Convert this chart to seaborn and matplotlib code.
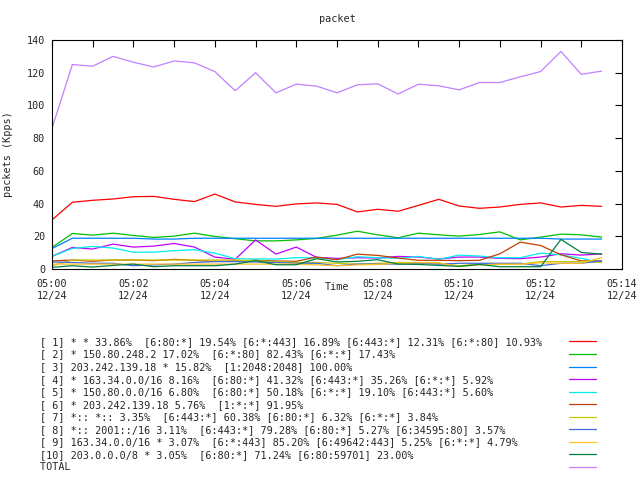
import pandas as pd
import seaborn as sns
import matplotlib
matplotlib.use("Agg")
import matplotlib.pyplot as plt
import matplotlib.dates as mdates

# Sample times: every 30 seconds from 05:00 to 05:13:30
times = pd.date_range("2012-12-24 05:00:00", periods=28, freq="30s")

# Series values in Kpps
s1 = [30, 40.8, 42, 42.8, 44.2, 44.4, 42.6, 41.2, 45.8, 41, 39.5, 38.3, 39.8, 40.4,
      39.5, 34.9, 36.5, 35.3, 38.9, 42.6, 38.5, 37.1, 37.9, 39.5, 40.4, 37.9, 38.9, 38.3]
s2 = [13.2, 21.7, 20.7, 21.9, 20.5, 19.3, 20.1, 21.9, 19.9, 18.5, 17.2, 17.2, 17.8, 18.7,
      20.7, 23.1, 20.9, 19.1, 21.9, 20.9, 20.1, 21.1, 22.7, 17.8, 19.5, 21.3, 20.9, 19.5]
s3 = [12.5, 18.8, 18.8, 18.8, 18.8, 18.3, 18.3, 18.8, 18.8, 18.8, 18.8, 18.8, 18.8, 18.8,
      18.8, 18.8, 18.8, 18.8, 18.8, 18.8, 18.8, 18.8, 18.8, 18.8, 18.8, 18.3, 18.3, 18.3]
s4 = [7.7, 13.2, 12.2, 15.2, 13.4, 14, 15.6, 13.4, 7.3, 5.9, 17.8, 9.1, 13.4, 7.1,
      6.5, 6.9, 6.7, 7.7, 7.3, 6.1, 7.3, 7.3, 6.5, 6.3, 7.3, 9.3, 8.5, 9.3]
s5 = [7.7, 12.6, 13.8, 12.8, 10.3, 10.3, 11.2, 11.8, 9.7, 6.3, 6.1, 6.1, 6.9, 6.9,
      5.7, 7.5, 6.9, 6.5, 7.7, 5.9, 8.5, 7.9, 6.9, 6.9, 9.7, 8.7, 6.5, 3.9]
s6 = [4.9, 5.5, 4.7, 5.5, 5.5, 5.1, 5.9, 5.3, 4.7, 4.9, 5.3, 4.9, 4.7, 7.3,
      5.7, 9.1, 8.3, 6.7, 5.3, 5.3, 5.1, 5.3, 9.3, 16.4, 14.4, 8.7, 4.9, 4.9]
s7 = [2, 5.5, 5.5, 5.5, 5.5, 5.5, 5.5, 5.5, 5.5, 5.5, 5, 4.5, 4, 4,
      3.5, 3, 3.5, 4, 4, 3.5, 2, 3, 3, 3, 4.5, 4.5, 4.5, 4]
s8 = [4.3, 4, 3.5, 3.5, 2, 2.5, 3, 4, 4.5, 4.5, 4.3, 4, 3.5, 3.5,
      2, 3, 3, 3, 3.5, 3, 3.5, 3.5, 3.5, 3.5, 2, 3.5, 3.5, 5]
s9 = [3, 3, 3, 3, 3, 3, 3, 3, 3, 3, 3, 3, 3, 2.5,
      2, 2.5, 2.8, 3.5, 3.8, 3.8, 1.5, 2.5, 3, 3, 3.8, 3.5, 3.5, 7]
s10 = [1, 2, 1.2, 2.2, 3, 1.4, 2, 2, 2, 3, 5.1, 2.6, 2.6, 6.3,
       4.3, 4.7, 5.7, 3, 2.8, 2.2, 1.6, 2.8, 1.4, 1.4, 1.4, 18.1, 10.1, 9.1]
total = [86, 125, 124, 130, 126.4, 123.5, 127.2, 126, 120.7, 109, 120, 107.7, 113, 111.8,
         107.7, 112.6, 113.2, 107, 113, 112, 109.5, 114, 114, 117.5, 120.7, 133, 119, 121]

labels = [
    "[ 1] * * 33.86%  [6:80:*] 19.54% [6:*:443] 16.89% [6:443:*] 12.31% [6:*:80] 10.93%",
    "[ 2] * 150.80.248.2 17.02%  [6:*:80] 82.43% [6:*:*] 17.43%",
    "[ 3] 203.242.139.18 * 15.82%  [1:2048:2048] 100.00%",
    "[ 4] * 163.34.0.0/16 8.16%  [6:80:*] 41.32% [6:443:*] 35.26% [6:*:*] 5.92%",
    "[ 5] * 150.80.0.0/16 6.80%  [6:80:*] 50.18% [6:*:*] 19.10% [6:443:*] 5.60%",
    "[ 6] * 203.242.139.18 5.76%  [1:*:*] 91.95%",
    "[ 7] *:: *:: 3.35%  [6:443:*] 60.38% [6:80:*] 6.32% [6:*:*] 3.84%",
    "[ 8] *:: 2001::/16 3.11%  [6:443:*] 79.28% [6:80:*] 5.27% [6:34595:80] 3.57%",
    "[ 9] 163.34.0.0/16 * 3.07%  [6:*:443] 85.20% [6:49642:443] 5.25% [6:*:*] 4.79%",
    "[10] 203.0.0.0/8 * 3.05%  [6:80:*] 71.24% [6:80:59701] 23.00%",
    "TOTAL",
]
series = [s1, s2, s3, s4, s5, s6, s7, s8, s9, s10, total]
colors = ["#ff0000", "#00c000", "#0080ff", "#c000ff", "#00eeee", "#c04000",
          "#c8c800", "#4169e1", "#ffc020", "#008040", "#c080ff"]

# Long format table for seaborn
rows = []
for lab, vals in zip(labels, series):
    for t, v in zip(times, vals):
        rows.append({"time": t, "value": v, "series": lab})
df = pd.DataFrame(rows)

sns.set_style("white")
plt.rcParams["font.family"] = ["DejaVu Sans Mono"]
fs = 7.3

fig = plt.figure(figsize=(6.4, 4.8), dpi=100)
ax = fig.add_axes([52 / 640, 1 - 269 / 480, 570 / 640, 229 / 480])

sns.lineplot(data=df, x="time", y="value", hue="series", hue_order=labels,
             palette=colors, linewidth=0.9, ax=ax, legend=False)

ax.set_ylim(0, 140)
ax.set_yticks(range(0, 141, 20))
ax.set_xlim(pd.Timestamp("2012-12-24 05:00"), pd.Timestamp("2012-12-24 05:14"))
ax.xaxis.set_major_locator(mdates.MinuteLocator(byminute=range(0, 60, 2)))
ax.xaxis.set_minor_locator(mdates.MinuteLocator())
ax.xaxis.set_major_formatter(mdates.DateFormatter("%H:%M\n%m/%d"))

ax.tick_params(which="both", direction="in", length=5, width=0.8,
               top=True, right=True, labelsize=fs, color="black")
ax.tick_params(axis="x", pad=7)
ax.tick_params(axis="y", pad=5)
for lbl in ax.get_xticklabels():
    lbl.set_linespacing(1.3)
for sp in ax.spines.values():
    sp.set_color("black")
    sp.set_linewidth(0.8)

ax.set_title("packet", fontsize=fs, pad=13)
ax.set_xlabel("Time", fontsize=fs, va="center")
ax.xaxis.set_label_coords(0.5, -0.079)
ax.set_ylabel("packets (Kpps)", fontsize=fs, va="center")
ax.yaxis.set_label_coords(-0.077, 0.5)

# gnuplot-style key: text left, sample line right
width = max(len(l) for l in labels)
handles = [plt.Line2D([], [], color=c, linewidth=0.9) for c in colors]
fig.legend(handles, [l.ljust(width) for l in labels], loc="upper right",
           bbox_to_anchor=(596 / 640, 1 - 337 / 480), frameon=False,
           markerfirst=False, fontsize=fs, handlelength=2.7,
           handletextpad=2.6, labelspacing=0.25, borderpad=0, borderaxespad=0)

fig.savefig("out.png", dpi=100)
